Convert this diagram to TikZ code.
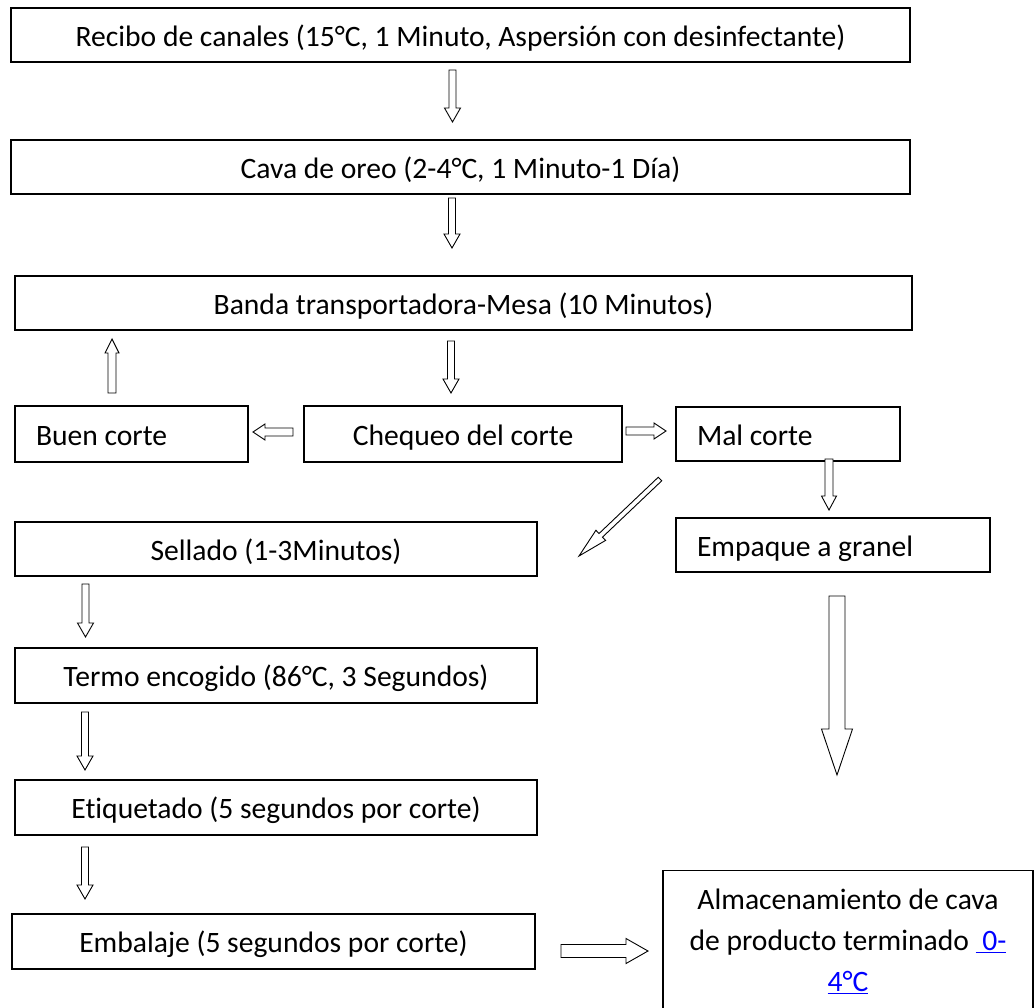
\documentclass[tikz,border=0pt]{standalone}
\usepackage{fontspec}
\setmainfont[Ligatures=CommonOff]{Carlito}
\usetikzlibrary{calc}

\tikzset{
  caja/.style={draw, line width=1.4pt, inner sep=0pt, font=\fontsize{29.6}{36}\selectfont, text height=24pt, text depth=2pt},
  cajaizq/.style={caja, align=flush left, inner xsep=21pt},
  flecha/.style={draw, line width=0.9pt, fill=white, line join=miter},
}
% block arrow: start, end, half shaft, half head, head length
\newcommand{\fleche}[5]{%
  \coordinate (fh) at ($(#2)!#5!(#1)$);
  \draw[flecha] ($(#1)!#3!90:(#2)$) -- ($(fh)!#3!90:(#2)$) -- ($(fh)!#4!90:(#2)$) -- (#2)
    -- ($(fh)!#4!-90:(#2)$) -- ($(fh)!#3!-90:(#2)$) -- ($(#1)!#3!-90:(#2)$) -- cycle;
}

\begin{document}
\begin{tikzpicture}[x=1pt, y=-1pt]
\useasboundingbox (0,0) rectangle (1036,1007);

\node[caja, minimum width=899pt, minimum height=54pt] (recibo) at (460.5,35) {Recibo de canales (15°C, 1 Minuto, Aspersión con desinfectante)};
\node[caja, minimum width=899pt, minimum height=54pt] (cava) at (460.5,167) {Cava de oreo (2-4°C, 1 Minuto-1 Día)};
\node[caja, minimum width=897pt, minimum height=54pt] (banda) at (463.5,303) {Banda transportadora-Mesa (10 Minutos)};

\node[cajaizq, text width=191pt, minimum height=56pt] (buen) at (131.5,434) {Buen corte};
\node[caja, minimum width=318pt, minimum height=56pt] (chequeo) at (463,434) {Chequeo del corte};
\node[cajaizq, text width=182pt, minimum height=54pt] (mal) at (788,434) {Mal corte};

\node[caja, minimum width=522pt, minimum height=54pt] (sellado) at (276,549) {Sellado (1-3Minutos)};
\node[cajaizq, text width=272pt, minimum height=54pt] (empaque) at (833,545) {Empaque a granel};
\node[caja, minimum width=522pt, minimum height=55pt] (termo) at (276,675.5) {Termo encogido (86°C, 3 Segundos)};
\node[caja, minimum width=522pt, minimum height=55pt] (etiquetado) at (276,807.5) {Etiquetado (5 segundos por corte)};
\node[caja, minimum width=523pt, minimum height=55pt] (embalaje) at (273.5,941.5) {Embalaje (5 segundos por corte)};

\node[draw, line width=1.4pt, inner sep=0pt, font=\fontsize{29.6}{41}\selectfont, align=flush center,
  text width=360pt, minimum width=370pt, minimum height=141pt, anchor=north] (almacen) at (848,870)
  {Almacenamiento de cava\\ de producto terminado \textcolor{blue}{\underline{\ 0-}}\\ \textcolor{blue}{\underline{4°C}}};

% small down arrows
\foreach \x/\ya/\yb in {452.5/70/122, 452/198/248, 451/341/393, 85.5/584/637, 85/712/770, 85/847/899} {
  \coordinate (s) at (\x,\ya);
  \coordinate (e) at (\x,\yb);
  \fleche{s}{e}{3.5pt}{8pt}{14pt}
}
\coordinate (bs) at (112,393);
\coordinate (be) at (112,339);
\fleche{bs}{be}{4pt}{7pt}{14pt}
\coordinate (cs) at (293,432);
\coordinate (ce) at (253,432);
\fleche{cs}{ce}{4pt}{8pt}{12pt}
\coordinate (ds) at (626,431);
\coordinate (de) at (666,431);
\fleche{ds}{de}{4pt}{8pt}{12pt}
\coordinate (ms) at (829,459);
\coordinate (me) at (829,510);
\fleche{ms}{me}{4pt}{7.5pt}{14pt}
\coordinate (gs) at (660,479);
\coordinate (ge) at (579,556);
\fleche{gs}{ge}{2.5pt}{7pt}{30pt}
\coordinate (hs) at (837,596);
\coordinate (he) at (837,775);
\fleche{hs}{he}{8pt}{15.5pt}{46pt}
\coordinate (ks) at (561,951);
\coordinate (ke) at (648,951);
\fleche{ks}{ke}{6.5pt}{12.5pt}{22pt}
\end{tikzpicture}
\end{document}
